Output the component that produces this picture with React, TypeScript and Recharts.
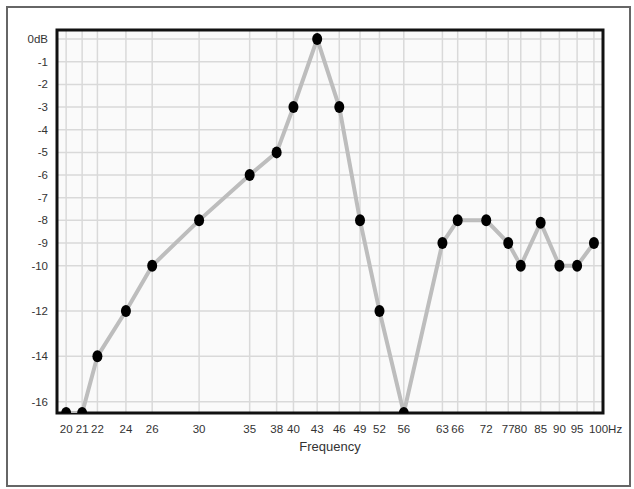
import { CartesianGrid, Line, LineChart, ReferenceArea, XAxis, YAxis } from "recharts";

const freqs = [20, 21, 22, 24, 26, 30, 35, 38, 40, 43, 46, 49, 52, 56, 63, 66, 72, 77, 80, 85, 90, 95, 100];
const levels = [-16.5, -16.5, -14, -12, -10, -8, -6, -5, -3, 0, -3, -8, -12, -16.5, -9, -8, -8, -9, -10, -8.1, -10, -10, -9];
const xTicks = [20, 21, 22, 24, 26, 30, 35, 38, 40, 43, 46, 49, 52, 56, 63, 66, 72, 77, 80, 85, 90, 95, 100];
const yTicks = [0, -1, -2, -3, -4, -5, -6, -7, -8, -9, -10, -12, -14, -16];

const xDomain = [19.45, 102.8];
const yDomain = [-16.5, 0.4];

const data = freqs.map((f, i) => ({ f, db: levels[i] }));

const font = "'Liberation Sans', Arial, sans-serif";

function XTick(props: any) {
  const { x, y, payload } = props;
  const last = payload.value === 100;
  return (
    <text
      x={last ? x - 5 : x}
      y={y}
      dy="0.71em"
      textAnchor={last ? "start" : "middle"}
      fill="#333"
      fontSize={11.5}
      fontFamily={font}
    >
      {last ? "100Hz" : payload.value}
    </text>
  );
}

function renderDot(props: any) {
  const { cx, cy, index } = props;
  return <ellipse key={index} cx={cx} cy={cy} rx={5} ry={6} fill="#000" />;
}

export default function App() {
  return (
    <div style={{ position: "absolute", left: 0, top: 0, width: 634, height: 489, background: "#fff" }}>
      <div
        style={{
          position: "absolute",
          left: 6,
          top: 6,
          width: 621,
          height: 477,
          border: "2px solid #666",
        }}
      />
      <div style={{ position: "absolute", left: 0, top: 0 }}>
        <LineChart width={634} height={489} data={data} margin={{ top: 30, right: 31, bottom: 54, left: 0 }}>
          <CartesianGrid stroke="#d9d9d9" strokeWidth={1.5} fill="#fafafa" />
          <XAxis
            dataKey="f"
            type="number"
            scale="log"
            domain={xDomain}
            ticks={xTicks}
            interval={0}
            allowDataOverflow
            height={22}
            tickLine={false}
            axisLine={false}
            tickMargin={6}
            tick={<XTick />}
            label={{ value: "Frequency", position: "bottom", offset: 7, fill: "#333", fontSize: 13, fontFamily: font }}
          />
          <YAxis
            type="number"
            domain={yDomain}
            ticks={yTicks}
            interval={0}
            allowDataOverflow
            width={57}
            tickLine={false}
            axisLine={false}
            tickMargin={3}
            tick={{ fill: "#333", fontSize: 11.5, fontFamily: font }}
            tickFormatter={(v: number) => (v === 0 ? "0dB" : String(v))}
          />
          <ReferenceArea
            x1={xDomain[0]}
            x2={xDomain[1]}
            y1={yDomain[0]}
            y2={yDomain[1]}
            fill="none"
            stroke="#111"
            strokeWidth={3}
            ifOverflow="visible"
          />
          <Line
            type="linear"
            dataKey="db"
            stroke="#bdbdbd"
            strokeWidth={4}
            dot={renderDot}
            activeDot={false}
            isAnimationActive={false}
          />
        </LineChart>
      </div>
    </div>
  );
}
